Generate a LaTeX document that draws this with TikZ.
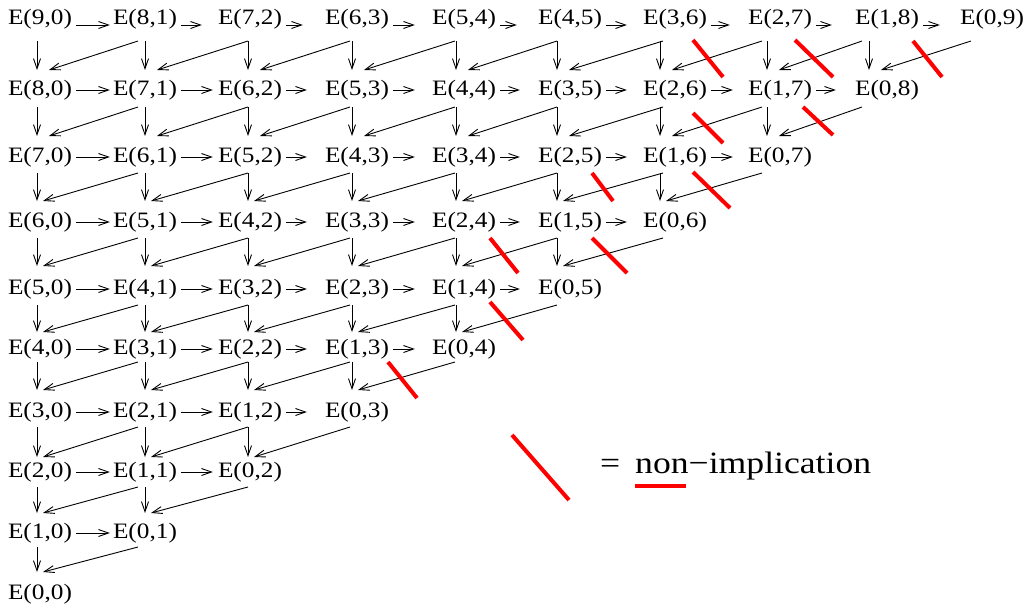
\documentclass[tikz,border=0pt]{standalone}
\usepackage{fontspec}
\setmainfont{Liberation Serif}[FakeStretch=1.15]
\usetikzlibrary{arrows.meta,calc}
\begin{document}
\begin{tikzpicture}[x=1pt,y=-1pt,
  lab/.style={inner sep=0pt, font=\fontsize{22}{26}\selectfont},
  leg/.style={inner sep=0pt, font=\fontsize{31}{36}\selectfont},
  arr/.style={line width=0.9pt, -{Straight Barb[length=10pt,width=7pt,line width=0.9pt]}},
  nonimp/.style={line width=4pt, draw=red},
  underl/.style={line width=3.5pt, draw=red}]
\useasboundingbox (0,0) rectangle (1030,608);
\def\rowy{{19,90,157,222,289,349,412,472,533,594}}
\def\colx{{40,145,250,357,464,570,675,780,887,992}}
\def\vdx{{-3,0,-2,-5,-8,-13,-15,-13,-18}}
\def\dsx{{0,-7,-2,-7,-9,-13,-12,-18,-25,-21}}
\def\sy{{22,17,16,16,16,13,15,15,14}}
\def\ty{{20,21,21,23,17,22,15,20,22}}
\def\hend{{3,5,18,17,18,16,15,19,20}}
\def\hendz{{3,16,22,17,21,16,18,23,20}}
% nodes
\foreach \r in {0,...,9}{
  \pgfmathtruncatemacro\last{9-\r}
  \foreach \c in {0,...,\last}{
    \pgfmathtruncatemacro\ii{9-\r-\c}
    \pgfmathsetmacro\xx{\colx[\c]}
    \pgfmathsetmacro\yy{\rowy[\r]}
    \node[lab] (n-\r-\c) at (\xx,\yy) {E(\ii,\c)};
  }
}
% horizontal arrows
\foreach \r in {0,...,8}{
  \pgfmathtruncatemacro\last{8-\r}
  \foreach \c in {0,...,\last}{
    \pgfmathtruncatemacro\cc{\c+1}
    \ifnum\r=0
      \pgfmathsetmacro\g{\hendz[\c]}\def\ys{-6pt}
    \else
      \pgfmathsetmacro\g{\hend[\c]}\def\ys{0pt}
    \fi
    \draw[arr, shorten <=4pt, shorten >=\g pt] ([yshift=\ys]n-\r-\c.east) -- ([yshift=\ys]n-\r-\cc.west);
  }
}
% vertical and diagonal arrows
\foreach \r in {0,...,8}{
  \pgfmathtruncatemacro\rr{\r+1}
  \pgfmathsetmacro\s{\sy[\r]}
  \pgfmathsetmacro\t{\ty[\r]}
  \pgfmathtruncatemacro\last{8-\r}
  \foreach \c in {0,...,\last}{
    \pgfmathsetmacro\dx{\vdx[\c]}
    \draw[arr] ($(n-\r-\c.center)+(\dx,\s)$) -- ($(n-\rr-\c.center)+(\dx,-\t)$);
  }
  \pgfmathtruncatemacro\lastd{9-\r}
  \foreach \c in {1,...,\lastd}{
    \pgfmathtruncatemacro\cm{\c-1}
    \pgfmathsetmacro\sdx{\dsx[\c]}
    \pgfmathsetmacro\edx{\vdx[\cm]+6+(\r<2)*6}
    \draw[arr] ($(n-\r-\c.center)+(\sdx,\s)$) -- ($(n-\rr-\cm.center)+(\edx,-\t)$);
  }
}
% non-implication marks
\draw[nonimp] (693,40) -- (723,77);
\draw[nonimp] (795,40) -- (833,77);
\draw[nonimp] (913,41) -- (942,77);
\draw[nonimp] (693,113) -- (723,143);
\draw[nonimp] (803,107) -- (833,135);
\draw[nonimp] (592,173) -- (613,201);
\draw[nonimp] (693,172) -- (730,208);
\draw[nonimp] (490,238) -- (518,273);
\draw[nonimp] (592,238) -- (627,273);
\draw[nonimp] (490,302) -- (523,340);
\draw[nonimp] (388,362) -- (417,398);
% legend
\draw[nonimp] (512,435) -- (569,500);
\node[leg, anchor=base west] (eq) at (600,473) {=};
\node[leg, anchor=base west] (legtext) at (635,473) {non−implication};
\draw[underl] ($(legtext.base west)+(0,13)$) -- ($(legtext.base west)+(51,13)$);
\end{tikzpicture}
\end{document}
